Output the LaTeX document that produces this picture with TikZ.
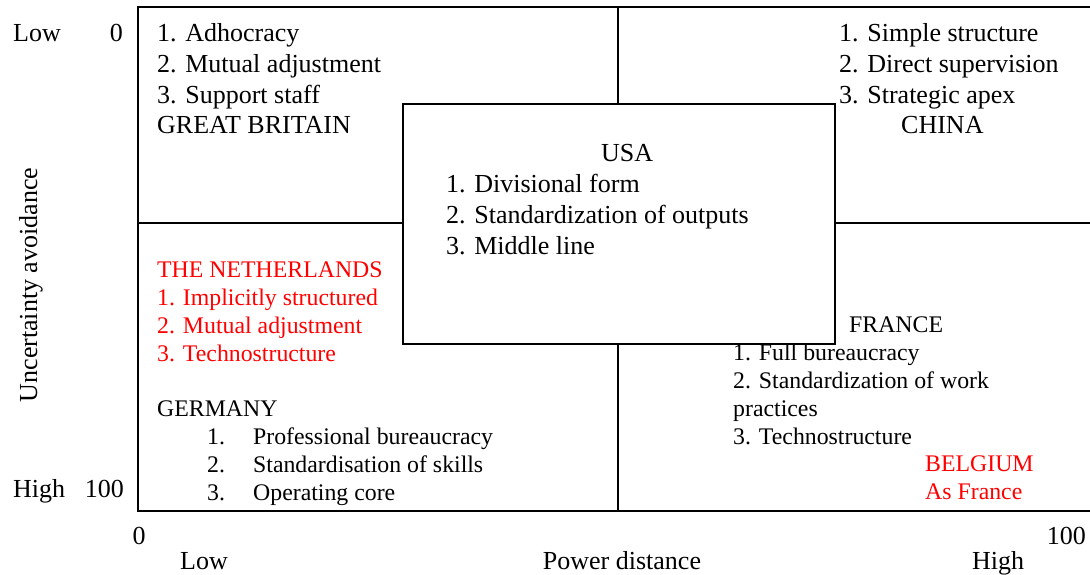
\documentclass[tikz,border=0pt]{standalone}
\usepackage{fontspec}
\setmainfont{Liberation Serif}
\definecolor{mred}{RGB}{255,0,0}
\begin{document}
\begin{tikzpicture}[x=1pt,y=-1pt,
  frame/.style={line width=2pt},
  big/.style={font=\fontsize{26}{30.7}\selectfont},
  small/.style={font=\fontsize{23.8}{27.8}\selectfont},
  block/.style={anchor=base west, align=left, inner sep=0pt},
  lbl/.style={inner sep=0pt, big}]
\useasboundingbox (0,0) rectangle (1090,575);

% quadrant grid
\draw[frame] (1090,7) -- (138,7) -- (138,511) -- (1090,511);
\draw[frame] (618,7) -- (618,511);
\draw[frame] (138,223) -- (1090,223);

% central box
\node[draw, fill=white, frame, inner sep=0pt, anchor=north west,
      minimum width=432, minimum height=240] (usa) at (402,103) {};

% quadrant contents (each block is placed by the baseline of its last line)
\node[block,big] (gb) at (157,134)
  {1. Adhocracy\\2. Mutual adjustment\\3. Support staff\\GREAT BRITAIN};
\node[block,big] (cn) at (839,134)
  {1. Simple structure\\2. Direct supervision\\3. Strategic apex\\\hspace*{62pt}CHINA};
\node[block,big] (us) at (446,254)
  {\hspace*{155pt}USA\\1. Divisional form\\2. Standardization of outputs\\3. Middle line};
\node[block,small,text=mred] (nl) at (157,361)
  {THE NETHERLANDS\\1. Implicitly structured\\2. Mutual adjustment\\3. Technostructure};
\node[block,small] (de) at (157,500)
  {GERMANY\\
   \hspace*{50pt}\makebox[46pt][l]{1.}Professional bureaucracy\\
   \hspace*{50pt}\makebox[46pt][l]{2.}Standardisation of skills\\
   \hspace*{50pt}\makebox[46pt][l]{3.}Operating core};
\node[block,small] (fr) at (733,444)
  {\hspace*{116pt}FRANCE\\1. Full bureaucracy\\2. Standardization of work\\practices\\3. Technostructure};
\node[block,small,text=mred] (be) at (925,499) {BELGIUM\\As France};

% vertical axis
\node[lbl, anchor=base west] (ylow) at (13,42) {Low};
\node[lbl, anchor=base east] (yzero) at (123,42) {0};
\node[lbl, anchor=base west] (yhigh) at (13,497) {High};
\node[lbl, anchor=base east] (yhundred) at (124,497) {100};
\node[lbl, rotate=90] (ytitle) at (31,285) {Uncertainty avoidance};

% horizontal axis
\node[lbl, anchor=base] (xzero) at (139,544) {0};
\node[lbl, anchor=base east] (xhundred) at (1086,544) {100};
\node[lbl, anchor=base west] (xlow) at (180,569) {Low};
\node[lbl, anchor=base] (xtitle) at (622,569) {Power distance};
\node[lbl, anchor=base west] (xhigh) at (972,569) {High};
\end{tikzpicture}
\end{document}
